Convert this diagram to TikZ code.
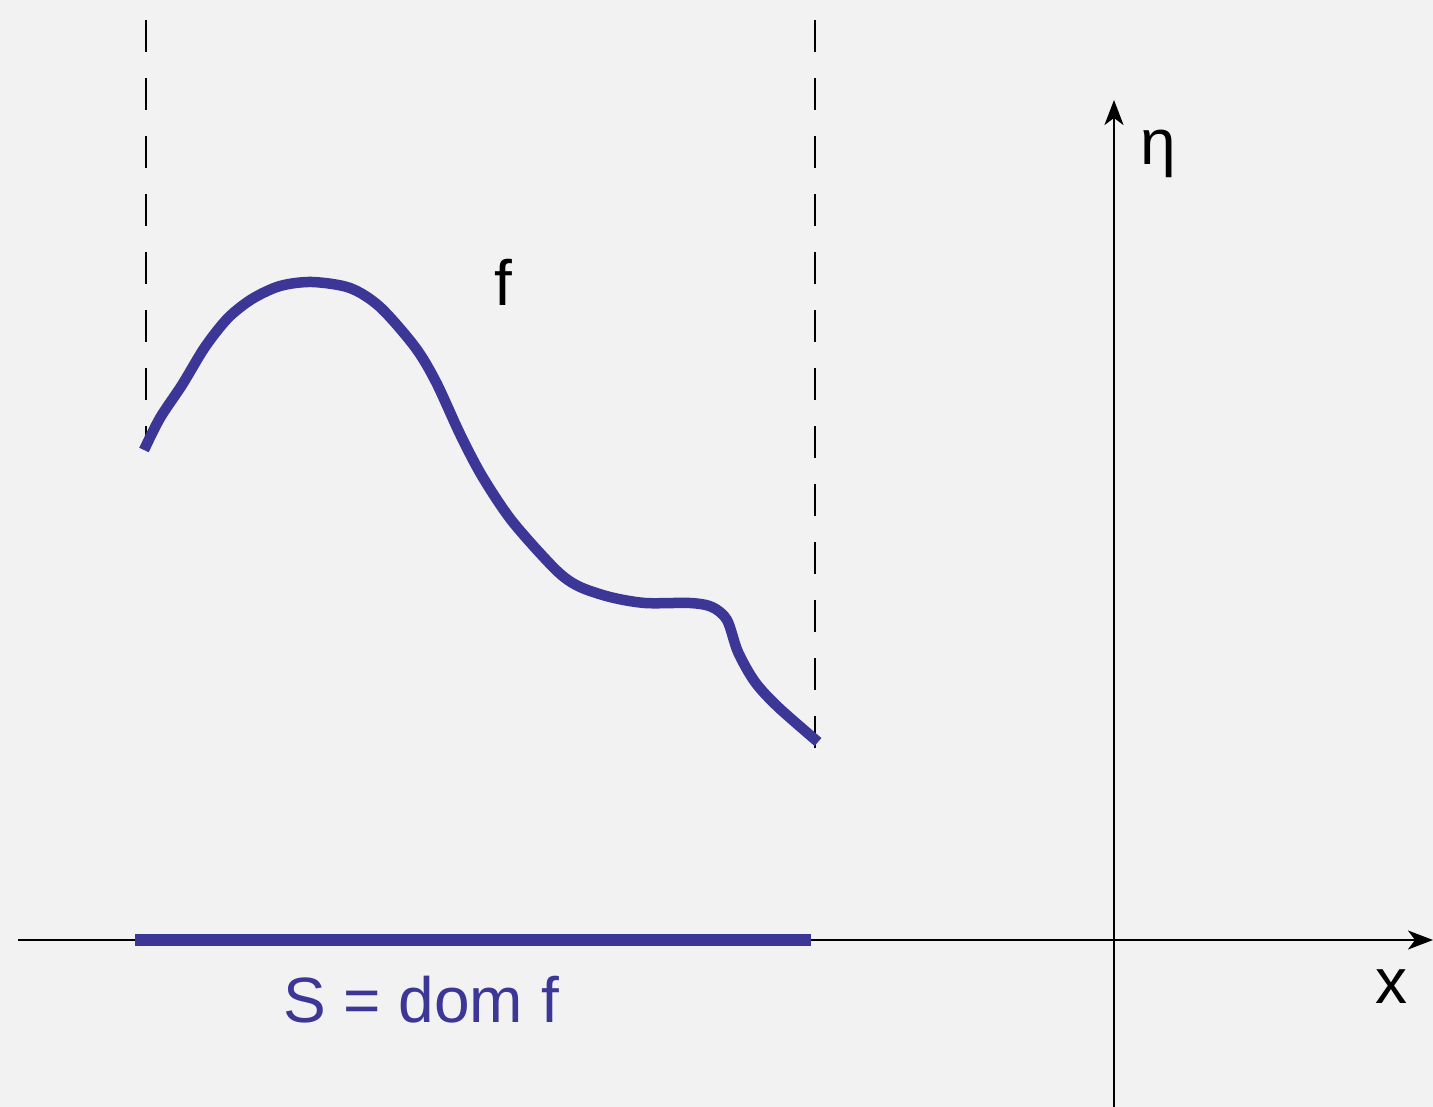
\documentclass[tikz,border=0pt]{standalone}
\usepackage{fontspec}
\setmainfont{Liberation Sans}
\usetikzlibrary{arrows.meta}
\definecolor{bg}{RGB}{242,242,242}
\definecolor{curvecol}{RGB}{60,54,150}
\tikzset{
  axis/.style={line width=2.2pt, black, -{Stealth[length=25pt,width=19pt,inset=7pt]}},
  guide/.style={line width=2.8pt, black, dash pattern=on 32pt off 26pt},
  fcurve/.style={line width=10.5pt, curvecol, line join=round},
  lbl/.style={inner sep=0pt, font=\fontsize{64}{64}\selectfont}
}
\begin{document}
\begin{tikzpicture}[x=1pt,y=-1pt]
\fill[bg] (0,0) rectangle (1433,1107);
\useasboundingbox (0,0) rectangle (1433,1107);
% axes
\coordinate (xl) at (18,940);
\coordinate (xr) at (1433,940);
\coordinate (yb) at (1114,1107);
\coordinate (yt) at (1114,100);
\draw[axis] (xl) -- (xr);
\draw[axis] (yb) -- (yt);
% dashed guides
\coordinate (g1t) at (146,20);
\coordinate (g1b) at (146,450);
\coordinate (g2t) at (815,20);
\coordinate (g2b) at (815,748);
\draw[guide] (g1t) -- (g1b);
\draw[guide] (g2t) -- (g2b);
% domain bar
\coordinate (d1) at (135,940);
\coordinate (d2) at (811,940);
\draw[curvecol, line width=12pt] (d1) -- (d2);
% curve
\draw[fcurve] plot[smooth, tension=0.5] coordinates {
 (144,450) (160,418) (182,385) (205,347) (228,318) (252,299) (280,286) (312,282) (350,288) (380,307) (415,347) (436,382) (460,434) (482,476) (512,521) (555,569) (578,586) (610,597) (645,603) (690,603) (712,607) (727,620) (738,652) (755,682) (778,707) (818,742)};
% labels
\node[lbl, anchor=base] (f) at (503,306) {f};
\node[lbl, anchor=base] (eta) at (1158,165) {η};
\node[lbl, anchor=base] (x) at (1391,1003) {x};
\node[lbl, anchor=base, text=curvecol] (S) at (421,1022) {S = dom f};
\end{tikzpicture}
\end{document}
